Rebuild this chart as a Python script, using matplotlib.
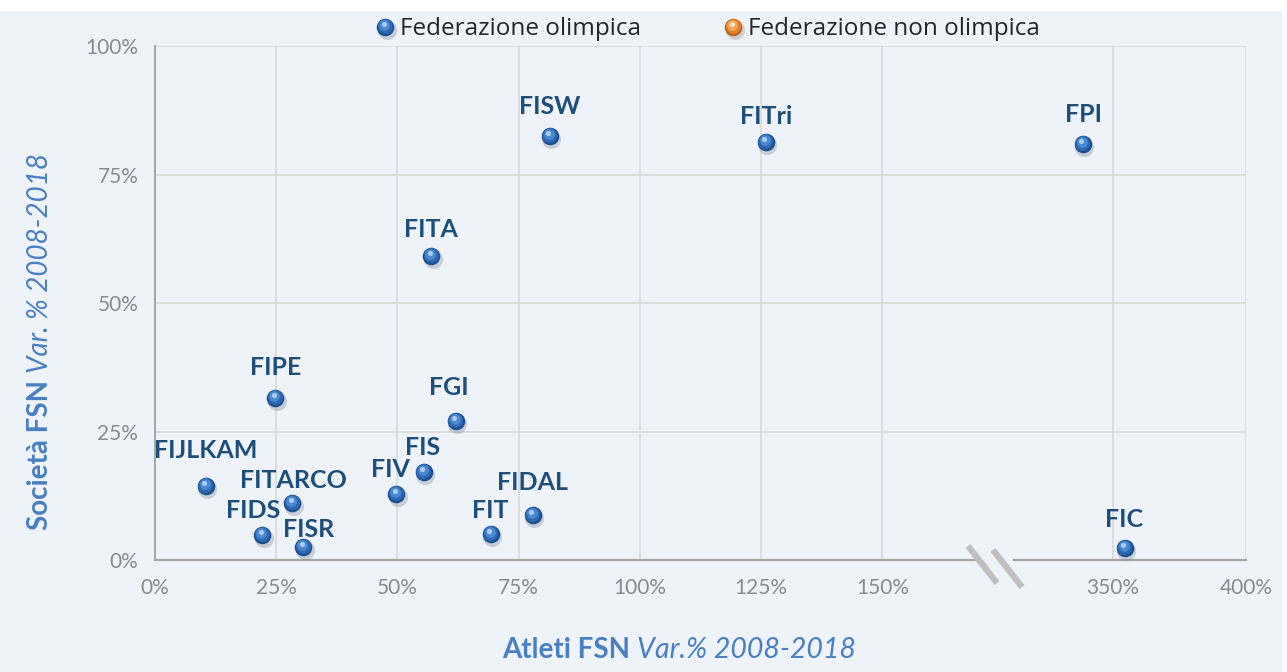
import matplotlib
matplotlib.use("Agg")
import matplotlib.pyplot as plt
from matplotlib.lines import Line2D
from matplotlib.transforms import offset_copy

# ── Data (variazione % 2008-2018) ─────────────────────────────────────────────
federazioni = ["FIJLKAM", "FIDS", "FITARCO", "FISR", "FIPE", "FIV", "FIS", "FGI",
               "FIT", "FIDAL", "FITA", "FISW", "FITri", "FPI", "FIC"]
atleti_var = [10.5, 22.1, 28.3, 30.6, 24.8, 49.8, 55.4, 62.0,
              69.2, 77.9, 57.0, 81.4, 126.0, 338.7, 354.5]
societa_var = [14.4, 4.9, 11.1, 2.5, 31.5, 12.8, 17.1, 27.0,
               5.1, 8.8, 59.1, 82.5, 81.3, 80.9, 2.3]

x_ticks = [0, 25, 50, 75, 100, 125, 150, 350, 400]
y_ticks = [0, 25, 50, 75, 100]

legend_labels = ["Federazione olimpica", "Federazione non olimpica"]

# label offsets (pixels) relative to each point
label_off = {"FIJLKAM": (0, 35), "FITARCO": (1, 22), "FIDS": (-9, 24), "FISR": (5, 18),
             "FIV": (-6, 25), "FIS": (-1, 25), "FIT": (0, 23), "FIDAL": (0, 32),
             "FGI": (-7, 34), "FIPE": (0, 31), "FITA": (0, 27), "FISW": (0, 29),
             "FITri": (0, 26), "FPI": (1, 30), "FIC": (-1, 29)}

# ── Style ─────────────────────────────────────────────────────────────────────
BG = "#eef3f9"
GRID = "#d9d9d9"
AXIS = "#a6a6a6"
TICK = "#8a8a8a"
LABEL = "#1f4e79"
TITLE = "#4a7fc1"
FONT = "Lato"

W, H = 1287, 672

BLUE_LAYERS = [(1.5, -3, 190, "#7f8a99", 0.35),
               (0, 0, 160, "#1d4f8f", 1),
               (-0.5, 0.8, 115, "#2d68b0", 1),
               (-1, 1.8, 60, "#4a88cf", 1),
               (-1.5, 3.2, 14, "#a9cbef", 1)]
ORANGE_LAYERS = [(1.5, -3, 190, "#8a8a8a", 0.3),
                 (0, 0, 160, "#b8641a", 1),
                 (-0.5, 0.8, 115, "#e0822a", 1),
                 (-1, 1.8, 60, "#f3a552", 1),
                 (-1.5, 3.2, 14, "#fde0bd", 1)]


def xpos(v):
    # broken axis: values above the break are compressed
    return v if v <= 175 else 197.5 + (v - 350) * 0.55


def px(x, y):
    return x / W, 1 - y / H


fig = plt.figure(figsize=(W / 100, H / 100), dpi=100)
fig.patch.set_facecolor(BG)
ax = fig.add_axes([155 / W, 1 - 560 / H, (1246 - 155) / W, (560 - 46) / H])
ax.set_facecolor(BG)
ax.set_xlim(0, 225)
ax.set_ylim(0, 100)

# grid
for v in x_ticks[1:]:
    ax.axvline(xpos(v), color=GRID, lw=1.2, zorder=0)
for v in y_ticks[1:]:
    ax.axhline(v, color=GRID, lw=1.2, zorder=0)

for s in ["top", "right", "bottom"]:
    ax.spines[s].set_visible(False)
ax.spines["left"].set_color(AXIS)
ax.spines["left"].set_linewidth(1.4)

# broken x axis line
ax.plot([0, 169.5], [0, 0], color=AXIS, lw=1.6, clip_on=False, zorder=3)
ax.plot([177.2, 225], [0, 0], color=AXIS, lw=1.6, clip_on=False, zorder=3)
for (x0, y0, x1, y1) in [(968, 546, 997, 583), (993, 550, 1022, 587)]:
    a, b = px(x0, y0)
    c, d = px(x1, y1)
    fig.add_artist(Line2D([a, c], [b, d], transform=fig.transFigure,
                          color="#bfbfbf", lw=4.5, solid_capstyle="butt"))

ax.set_xticks([xpos(v) for v in x_ticks])
ax.set_xticklabels([f"{v}%" for v in x_ticks])
ax.set_yticks(y_ticks)
ax.set_yticklabels([f"{v}%" for v in y_ticks])
ax.tick_params(length=0, labelsize=15, labelcolor=TICK)
ax.tick_params(axis="x", pad=13)
ax.tick_params(axis="y", pad=12)
for t in ax.get_xticklabels() + ax.get_yticklabels():
    t.set_fontfamily(FONT)


# sphere-like markers
def ball(axis, x, y, layers, base):
    for (dx, dy, size, col, alpha) in layers:
        tr = offset_copy(base, fig=fig, x=dx, y=dy, units="dots")
        axis.scatter(x, y, s=size, color=col, alpha=alpha, linewidths=0,
                     transform=tr, zorder=4, clip_on=False)


xs = [xpos(v) for v in atleti_var]
ball(ax, xs, societa_var, BLUE_LAYERS, ax.transData)

for name, x, y in zip(federazioni, xs, societa_var):
    dx, dy = label_off[name]
    ax.annotate(name, (x, y), xytext=(dx, dy), textcoords="offset pixels",
                ha="center", va="center", fontsize=18, fontweight="bold",
                color=LABEL, fontfamily=FONT, zorder=5)

# legend (drawn by hand, sphere markers)
for (mx, layers), lab in zip([(385, BLUE_LAYERS), (733, ORANGE_LAYERS)], legend_labels):
    lx, ly = px(mx, 27)
    ball(ax, [lx], [ly], layers, fig.transFigure)
    tx, ty = px(mx + 15, 29)
    fig.text(tx, ty, lab, fontsize=17.5, fontfamily="Open Sans", color="#262626",
             ha="left", va="center")

# axis titles (bold part + italic part)
t1 = fig.text(502 / W, 1 - 650 / H, "Atleti FSN", fontsize=20, fontweight="bold",
              color=TITLE, fontfamily=FONT, ha="left", va="center")
fig.canvas.draw()
ax.annotate("Var.% 2008-2018", xy=(1, 0.5), xycoords=t1, xytext=(7, 0),
            textcoords="offset pixels", fontsize=20.5, fontstyle="italic",
            color=TITLE, fontfamily=FONT, ha="left", va="center", annotation_clip=False)

t2 = fig.text(40 / W, 1 - 530 / H, "Società FSN", fontsize=20, fontweight="bold",
              color=TITLE, fontfamily=FONT, rotation=90, ha="center", va="bottom")
ax.annotate("Var. % 2008-2018", xy=(0.5, 1), xycoords=t2, xytext=(0, 7),
            textcoords="offset pixels", fontsize=20, fontstyle="italic",
            color=TITLE, fontfamily=FONT, rotation=90, ha="center", va="bottom",
            annotation_clip=False)

# white frame strips like the original screenshot
fig.add_artist(plt.Rectangle((0, 1 - 10 / H), 1, 10 / H, transform=fig.transFigure,
                             color="white", zorder=-1))
fig.add_artist(plt.Rectangle((1 - 4 / W, 0), 4 / W, 1, transform=fig.transFigure,
                             color="white", zorder=-1))

fig.savefig("out.png", dpi=100, facecolor=BG)
